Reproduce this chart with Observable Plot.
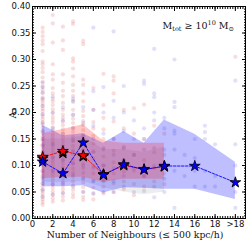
<!DOCTYPE html>
<html><head><meta charset="utf-8">
<script src="https://cdn.jsdelivr.net/npm/d3@7"></script>
<script src="https://cdn.jsdelivr.net/npm/@observablehq/plot@0.6"></script>
<style>body{margin:0;background:#fff}svg{display:block}</style>
</head><body><div id="chart"></div>
<script>
// Binned medians and percentile bands
const blueX = [1, 3, 5, 7, 9, 11, 13, 16, 20];
const blueMedian = [0.107, 0.085, 0.143, 0.082, 0.102, 0.092, 0.099, 0.099, 0.068];
const blueUpper  = [0.176, 0.156, 0.160, 0.142, 0.164, 0.142, 0.186, 0.159, 0.106];
const blueLower  = [0.060, 0.060, 0.062, 0.048, 0.058, 0.057, 0.055, 0.055, 0.036];

const redX = [1, 3, 5, 7, 9, 11, 13];
const redMedian = [0.116, 0.127, 0.119, 0.083, 0.100, 0.093, 0.098];
const redUpper  = [0.160, 0.168, 0.177, 0.146, 0.142, 0.142, 0.142];
const redLower  = [0.075, 0.078, 0.078, 0.068, 0.074, 0.074, 0.074];

const blackX = [1, 3, 5, 7, 13];
const blackMedian = [0.113, 0.123, 0.117, 0.083, 0.098];
const greyBandX = [1, 3, 5, 7, 9, 11, 13];
const greyUpper  = [0.150, 0.150, 0.155, 0.130, 0.130, 0.125, 0.135];
const greyLower  = [0.068, 0.068, 0.070, 0.058, 0.050, 0.045, 0.050];

// Individual galaxies: [neighbours, A1 values]
const redScatter = [
  [1, [0.360,0.352,0.344,0.336,0.329,0.316,0.296,0.291,0.284,0.276,0.266,0.258,0.249,0.243,0.236,0.228,0.223,0.218,0.213,0.207,0.203,0.197,0.192,0.187,0.182,0.177,0.171,0.166,0.161,0.155,0.150,0.146,0.140,0.136,0.131,0.125,0.121,0.116,0.110,0.106,0.101,0.096,0.090,0.086,0.081,0.075,0.071,0.066,0.061,0.055,0.051,0.046,0.040,0.036,0.031,0.026]],
  [2, [0.384,0.368,0.332,0.291,0.272,0.262,0.246,0.236,0.226,0.221,0.214,0.206,0.199,0.192,0.186,0.180,0.172,0.166,0.158,0.151,0.144,0.137,0.130,0.124,0.117,0.110,0.104,0.097,0.090,0.084,0.077,0.071,0.064,0.058,0.051,0.045,0.038,0.032]],
  [3, [0.362,0.336,0.318,0.272,0.256,0.241,0.231,0.218,0.205,0.196,0.190,0.183,0.176,0.168,0.160,0.153,0.146,0.139,0.132,0.125,0.118,0.111,0.104,0.097,0.090,0.083,0.076,0.069,0.062,0.055,0.048,0.041,0.034]],
  [4, [0.372,0.367,0.302,0.296,0.283,0.268,0.252,0.241,0.231,0.222,0.205,0.196,0.188,0.180,0.171,0.163,0.154,0.146,0.137,0.129,0.121,0.112,0.104,0.095,0.087,0.079,0.070,0.062,0.054,0.046,0.040]],
  [5, [0.335,0.329,0.262,0.252,0.236,0.221,0.203,0.193,0.184,0.176,0.167,0.158,0.149,0.140,0.131,0.122,0.113,0.104,0.095,0.086,0.077,0.068,0.059,0.050,0.041,0.035]],
  [6, [0.246,0.205,0.182,0.170,0.156,0.141,0.127,0.113,0.099,0.085,0.071,0.058,0.046,0.036]],
  [7, [0.273,0.214,0.190,0.168,0.150,0.133,0.117,0.100,0.086,0.072,0.060,0.047]],
  [8, [0.268,0.260,0.236,0.183,0.150,0.128,0.106,0.085,0.066,0.050]],
  [9, [0.205,0.170,0.132,0.110,0.088,0.070,0.055]],
  [10, [0.208,0.160,0.120,0.090,0.065,0.044]],
  [11, [0.215,0.150,0.110,0.080,0.060]],
  [12, [0.175,0.125,0.095,0.070]],
  [13, [0.160,0.120,0.085,0.065]],
  [20, [0.305]]
];
const blueScatter = [
  [1, [0.256,0.248,0.238,0.226,0.212,0.196,0.180,0.164,0.150,0.138,0.126,0.114,0.102,0.090,0.078,0.066,0.054,0.042]],
  [2, [0.230,0.200,0.170,0.140,0.115,0.090,0.065,0.045]],
  [3, [0.210,0.185,0.160,0.135,0.110,0.088,0.066,0.048]],
  [4, [0.226,0.220,0.195,0.170,0.148,0.126,0.104,0.082,0.060]],
  [5, [0.210,0.180,0.155,0.128,0.100,0.075,0.050]],
  [6, [0.360,0.240,0.205,0.175,0.150,0.125,0.095,0.070,0.048]],
  [7, [0.248,0.200,0.160,0.130,0.100,0.070,0.050]],
  [8, [0.353,0.222,0.190,0.150,0.120,0.095,0.070,0.050]],
  [9, [0.250,0.200,0.165,0.135,0.110,0.080,0.060]],
  [10, [0.185,0.150,0.120,0.095,0.050]],
  [11, [0.260,0.254,0.170,0.150,0.130,0.080,0.052]],
  [12, [0.320,0.236,0.229,0.200,0.185,0.133,0.100,0.060,0.040]],
  [13, [0.190,0.170,0.130,0.075,0.050]],
  [14, [0.300,0.220,0.210,0.166,0.160,0.130,0.090,0.020]],
  [15, [0.120,0.080]],
  [16, [0.150,0.114,0.090,0.060]],
  [17, [0.175,0.163,0.150,0.090,0.060]],
  [18, [0.140,0.080,0.060]],
  [20, [0.260,0.140,0.100,0.050,0.020]]
];

const xTicks = [0, 2, 4, 6, 8, 10, 12, 14, 16, 18, 20];
const xTickLabels = ["0", "2", "4", "6", "8", "10", "12", "14", "16", "18", ">18"];
const yTicks = [0, 0.05, 0.10, 0.15, 0.20, 0.25, 0.30, 0.35, 0.40];
const yTickLabels = ["0.00", "0.05", "0.10", "0.15", "0.20", "0.25", "0.30", "0.35", "0.40"];
const yTitle = "A\u2081";
const xTitle = "Number of Neighbours (\u2264 500 kpc/h)";

const band = (xs, lo, hi) => xs.map((x, i) => ({x, lo: lo[i], hi: hi[i]}));
const pts = (xs, ys) => xs.map((x, i) => ({x, y: ys[i]}));
const flat = (cols) => cols.flatMap(([x, vs]) => vs.map(y => ({x, y})));

const xMinor = d3.range(0, 21.01, 0.25);
const yMinor = d3.range(0, 0.4001, 0.005);
const tickFont = "DejaVu Sans, sans-serif";
const serif = "DejaVu Serif, Liberation Serif, serif";

const plot = Plot.plot({
  width: 249, height: 242,
  marginLeft: 32, marginRight: 4, marginTop: 6, marginBottom: 24,
  style: {fontFamily: tickFont, fontSize: "8.5px", color: "#111", background: "#fff"},
  x: {domain: [0, 21]},
  y: {domain: [0, 0.4]},
  marks: [
    Plot.dot(flat(redScatter), {x: "x", y: "y", r: 2.1, fill: "#dd3030", fillOpacity: 0.17, stroke: "none"}),
    Plot.dot(flat(blueScatter), {x: "x", y: "y", r: 2.1, fill: "#3030dd", fillOpacity: 0.15, stroke: "none"}),
    Plot.areaY(band(greyBandX, greyLower, greyUpper), {x: "x", y1: "lo", y2: "hi", fill: "#888", fillOpacity: 0.15}),
    Plot.areaY(band(blueX, blueLower, blueUpper), {x: "x", y1: "lo", y2: "hi", fill: "#0000ff", fillOpacity: 0.25}),
    Plot.areaY(band(redX, redLower, redUpper), {x: "x", y1: "lo", y2: "hi", fill: "#ff2020", fillOpacity: 0.25}),
    Plot.line(pts(redX, redMedian), {x: "x", y: "y", stroke: "red", strokeWidth: 0.9, strokeDasharray: "2.5,1.5"}),
    Plot.line(pts(blueX, blueMedian), {x: "x", y: "y", stroke: "blue", strokeWidth: 0.9, strokeDasharray: "2.5,1.5"}),
    Plot.dot(pts(blackX, blackMedian), {x: "x", y: "y", symbol: "star", r: 3.4, fill: "black", stroke: "black", strokeWidth: 0.8}),
    Plot.dot(pts(redX, redMedian), {x: "x", y: "y", symbol: "star", r: 3.4, fill: "red", stroke: "black", strokeWidth: 0.8}),
    Plot.dot(pts(blueX, blueMedian), {x: "x", y: "y", symbol: "star", r: 3.4, fill: "blue", stroke: "black", strokeWidth: 0.8}),
    Plot.frame({stroke: "black", strokeWidth: 1}),
    // major ticks (inward) on all sides
    Plot.axisX(xTicks, {anchor: "bottom", tickSize: -4, text: null, label: null, stroke: "black"}),
    Plot.axisX(xTicks, {anchor: "top", tickSize: -4, text: null, label: null, stroke: "black"}),
    Plot.axisY(yTicks, {anchor: "left", tickSize: -4, text: null, label: null, stroke: "black"}),
    Plot.axisY(yTicks, {anchor: "right", tickSize: -4, text: null, label: null, stroke: "black"}),
    // minor ticks
    Plot.axisX(xMinor, {anchor: "bottom", tickSize: -2, text: null, label: null, stroke: "black"}),
    Plot.axisX(xMinor, {anchor: "top", tickSize: -2, text: null, label: null, stroke: "black"}),
    Plot.axisY(yMinor, {anchor: "left", tickSize: -2, text: null, label: null, stroke: "black"}),
    Plot.axisY(yMinor, {anchor: "right", tickSize: -2, text: null, label: null, stroke: "black"}),
    // tick labels
    Plot.axisX(xTicks, {anchor: "bottom", tickSize: 0, tickPadding: 2, label: null, tickFormat: (d, i) => xTickLabels[i]}),
    Plot.axisY(yTicks, {anchor: "left", tickSize: 0, tickPadding: 2, label: null, tickFormat: (d, i) => yTickLabels[i]}),
    // axis titles
    Plot.text([yTitle], {frameAnchor: "left", rotate: -90, dx: -20, dy: 6, fontFamily: serif, fontSize: 10, fill: "#111"}),
    Plot.text([xTitle], {frameAnchor: "bottom", dy: 19, dx: -4, fontFamily: serif, fontSize: 9.3, fill: "#111"})
  ]
});

const svg = d3.select(plot);
// mass threshold note
const note = svg.append("text").attr("x", 234).attr("y", 29).attr("text-anchor", "end")
  .attr("font-family", serif).attr("font-size", "9.5px").attr("fill", "#111");
note.append("tspan").text("M");
note.append("tspan").attr("font-size", "6.5px").attr("dy", "2").text("tot");
note.append("tspan").attr("dy", "-2").text(" \u2265 10");
note.append("tspan").attr("font-size", "6.5px").attr("dy", "-4").text("10");
note.append("tspan").attr("dy", "4").text(" M");
note.append("tspan").attr("font-size", "6.5px").attr("dy", "2").text("\u2299");

document.getElementById("chart").append(plot);
</script>
</body></html>
